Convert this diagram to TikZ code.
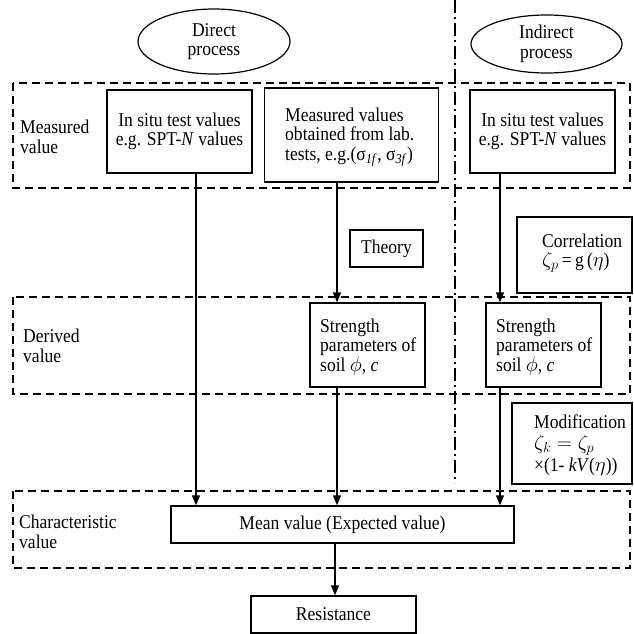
\documentclass[tikz,border=0pt]{standalone}
\usepackage{fontspec}
\setmainfont[FakeStretch=0.9]{Liberation Serif}
\newfontfamily\tnrfont[FakeStretch=0.9]{Liberation Serif}
\usetikzlibrary{arrows.meta,shapes.geometric}
\newcommand\dfont{\tnrfont\fontsize{19.5}{19.5}\selectfont}
\newcommand\dfontwide{\tnrfont\fontsize{19.5}{21.5}\selectfont}
\begin{document}
\begin{tikzpicture}[x=1pt,y=-1pt,font=\dfont,
  box/.style={draw, line width=1.4pt, inner sep=0pt, align=center},
  oval/.style={draw, ellipse, line width=1.2pt, inner sep=0pt, align=center},
  lbl/.style={align=left, inner sep=0pt, anchor=west},
  dsh/.style={line width=1.5pt, dash pattern=on 8pt off 5pt},
  ddot/.style={line width=1.3pt, dash pattern=on 13pt off 4pt on 2pt off 4pt},
  arr/.style={line width=1.4pt, -{Triangle[length=10pt,width=8pt]}}]
\useasboundingbox (0,0) rectangle (633,634);
% dashed zones
\draw[dsh] (13,83) rectangle (630,188);
\draw[dsh] (13,297) rectangle (630,394);
\draw[dsh] (13,491) rectangle (630,568);
% dash-dot separator
\coordinate (ddtop) at (455,0);
\coordinate (ddbot) at (455,483);
\draw[ddot] (ddtop) -- (ddbot);
% zone labels
\node[lbl] (lmeas) at (20,137) {Measured\\value};
\node[lbl] (lder) at (23,346) {Derived\\value};
\node[lbl] (lchar) at (19,532) {Characteristic\\value};
% ellipses
\node[oval, minimum width=152pt, minimum height=65pt] (direct) at (214,41.5) {Direct\\process};
\node[oval, minimum width=151pt, minimum height=58pt] (indirect) at (546.5,44) {Indirect\\process};
% boxes
\node[box, minimum width=145pt, minimum height=83pt] (insitu1) at (179.5,131.5) {In situ test values\\e.g. SPT-\textit{N} values};
\node[box, minimum width=174pt, minimum height=94pt] (meas) at (351.5,135) {};
\node[lbl] (meastext) at (285,137) {Measured values\\obtained from lab.\\tests, e.g.(σ\textsubscript{\textit{1f}}, σ\textsubscript{\textit{3f}})};
\node[box, minimum width=145pt, minimum height=83pt] (insitu2) at (542.5,131.5) {In situ test values\\e.g. SPT-\textit{N} values};
\node[box, minimum width=73pt, minimum height=37pt] (theory) at (386.5,248.5) {Theory};
\node[box, minimum width=115pt, minimum height=76pt] (corr) at (574.5,255) {};
\node[lbl] (corrtext) at (542,253) {Correlation\\$\zeta_p$\,=\,g\,($\eta$)};
\node[box, minimum width=115pt, minimum height=84pt] (str1) at (367.5,345) {};
\node[lbl] (str1text) at (320,347) {Strength\\parameters of\\soil $\phi$, \textit{c}};
\node[box, minimum width=115pt, minimum height=84pt] (str2) at (543.5,345) {};
\node[lbl] (str2text) at (496,347) {Strength\\parameters of\\soil $\phi$, \textit{c}};
\node[box, minimum width=120pt, minimum height=81pt] (modif) at (572,443.5) {};
\node[lbl, font=\dfontwide] (modiftext) at (534,445) {Modification\\$\zeta_k=\zeta_p$\\×(1- \textit{kV}($\eta$))};
\node[box, minimum width=343pt, minimum height=37pt] (mean) at (342.5,524.5) {Mean value (Expected value)};
\node[box, minimum width=165pt, minimum height=37pt] (resist) at (333.5,614.5) {Resistance};
% arrow columns
\coordinate (xa) at (196,0);
\coordinate (xb) at (337,0);
\coordinate (xc) at (500,0);
\coordinate (xd) at (335,0);
\draw[arr] (insitu1.south -| xa) -- (mean.north -| xa);
\draw[arr] (meas.south -| xb) -- (str1.north -| xb);
\draw[arr] (str1.south -| xb) -- (mean.north -| xb);
\draw[arr] (insitu2.south -| xc) -- (str2.north -| xc);
\draw[arr] (str2.south -| xc) -- (mean.north -| xc);
\draw[arr] (mean.south -| xd) -- (resist.north -| xd);
\end{tikzpicture}
\end{document}
